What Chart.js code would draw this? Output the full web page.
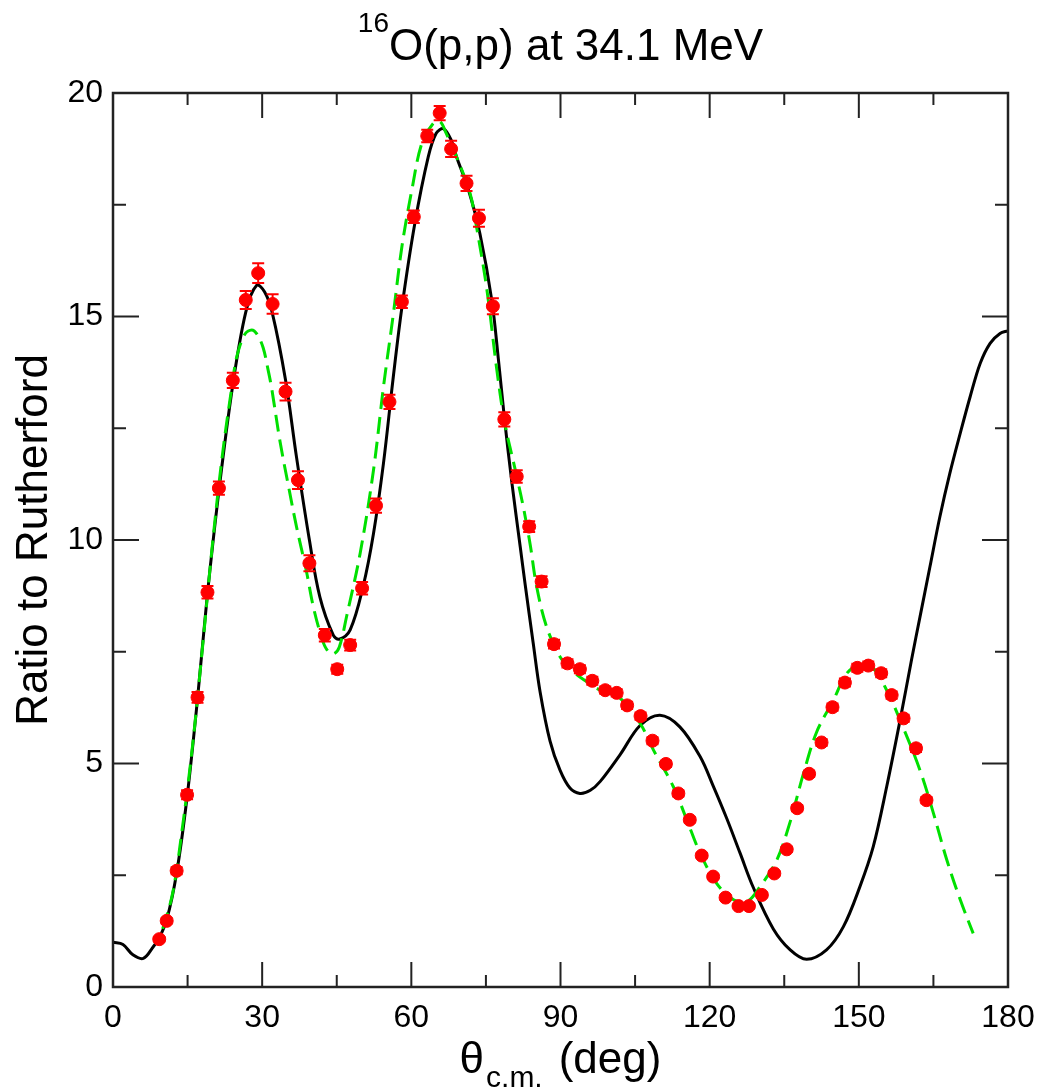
<!DOCTYPE html>
<html>
<head>
<meta charset="utf-8">
<title>16O(p,p) at 34.1 MeV</title>
<script src="https://cdn.jsdelivr.net/npm/chart.js@4/dist/chart.umd.min.js"></script>
<style>
    html, body { margin: 0; padding: 0; background: #fff; }
    #chart { display: block; }
</style>
</head>
<body>
<canvas id="chart" width="1041" height="1092"></canvas>
<script>
// Measured cross sections (ratio to Rutherford)
const expTheta = [9.3, 10.8, 12.8, 14.9, 17.0, 19.0, 21.3, 24.1, 26.7, 29.2,
    32.1, 34.7, 37.2, 39.5, 42.6, 45.1, 47.7, 50.1, 52.9, 55.6,
    58.1, 60.5, 63.2, 65.7, 68.0, 71.1, 73.6, 76.4, 78.7, 81.2,
    83.7, 86.2, 88.7, 91.4, 93.9, 96.4, 99.0, 101.3, 103.4, 106.1,
    108.5, 111.2, 113.7, 116.0, 118.4, 120.7, 123.2, 125.8, 127.9, 130.5,
    133.0, 135.5, 137.6, 140.0, 142.5, 144.7, 147.2, 149.7, 151.9, 154.5,
    156.6, 159.0, 161.5, 163.6];
const expRatio = [1.07, 1.48, 2.60, 4.30, 6.48, 8.83, 11.16, 13.57, 15.37, 15.97,
    15.28, 13.32, 11.34, 9.48, 7.87, 7.11, 7.65, 8.92, 10.77, 13.09,
    15.33, 17.23, 19.04, 19.55, 18.75, 17.98, 17.20, 15.23, 12.70, 11.42,
    10.30, 9.07, 7.67, 7.24, 7.11, 6.85, 6.64, 6.58, 6.30, 6.06,
    5.51, 4.99, 4.33, 3.74, 2.94, 2.47, 2.00, 1.81, 1.81, 2.06,
    2.54, 3.08, 4.00, 4.77, 5.47, 6.26, 6.81, 7.14, 7.19, 7.02,
    6.53, 6.01, 5.34, 4.18];
const expError = [0.05, 0.06, 0.08, 0.10, 0.12, 0.14, 0.15, 0.17, 0.20, 0.22,
    0.22, 0.20, 0.20, 0.18, 0.14, 0.10, 0.12, 0.14, 0.16, 0.16,
    0.14, 0.14, 0.14, 0.16, 0.18, 0.17, 0.19, 0.18, 0.16, 0.14,
    0.12, 0.12, 0.10, 0.09, 0.09, 0.09, 0.08, 0.08, 0.08, 0.08,
    0.08, 0.07, 0.07, 0.06, 0.05, 0.05, 0.05, 0.05, 0.05, 0.05,
    0.05, 0.06, 0.07, 0.07, 0.08, 0.08, 0.09, 0.09, 0.09, 0.09,
    0.08, 0.08, 0.08, 0.07];

// Calculation 1 (black solid)
const calcATheta = [0, 2, 4, 6.1, 8.1, 9.3, 10.8, 12.8, 14.9, 17, 19, 21.3, 24, 26.7, 28.9,
    30.5, 32, 34.7, 36.9, 39.5, 41.6, 44.3, 45.5, 47.7, 50.3, 52.4, 54.4, 56.3,
    58.1, 60.7, 63.4, 65, 66.5, 68, 69.1, 71.5, 73.8, 76.2, 77.5, 78.7, 80.2,
    81.9, 82.9, 84.5, 85.9, 87.9, 89.9, 91.9, 93.9, 96, 98, 102, 106, 110, 114,
    118.1, 120.7, 123.4, 126.1, 128.8, 132.8, 136.2, 139.5, 143.5, 146.9, 150.2,
    152.9, 155.6, 158.3, 160.6, 162.3, 164.3, 166.3, 168.3, 170.4, 172.4, 174.4,
    176.4, 178.4, 180];
const calcARatio = [1.0, 0.95, 0.72, 0.64, 0.9, 1.1, 1.5, 2.55, 4.25, 6.45, 8.8, 11.1, 13.4, 15.1, 15.7,
    15.55, 15.1, 13.58, 11.86, 10.0, 8.73, 7.87, 7.78, 7.99, 8.96, 10.15, 11.72, 13.58,
    15.2, 17.08, 18.57, 19.1, 19.2, 18.95, 18.57, 17.83, 16.85, 15.35, 14.05, 12.75, 11.3,
    9.85, 9.0, 7.7, 6.6, 5.5, 4.85, 4.45, 4.33, 4.4, 4.6, 5.2, 5.85, 6.08, 5.82,
    5.15, 4.5, 3.78, 3.0, 2.22, 1.3, 0.83, 0.62, 0.83, 1.35, 2.24,
    3.14, 4.48, 5.97, 7.32, 8.28, 9.4, 10.52, 11.49, 12.39, 13.21, 13.95,
    14.4, 14.62, 14.68];

// Calculation 2 (green dashed)
const calcBTheta = [10, 12, 14, 16, 18, 20, 22, 24, 24.9, 26.5, 27.9, 29, 30.2, 31.2, 31.9,
    33.6, 35.3, 36.9, 38.9, 40.3, 42, 43, 44.3, 45.5, 47, 49.7, 52.4, 54.4, 56.4,
    58.1, 60.1, 62.1, 64.4, 65.8, 67, 69.1, 71.8, 73.2, 75.2, 77.2, 78.8, 80.9,
    82.5, 83.9, 85.2, 87.2, 89.9, 92.6, 95, 98, 102, 106, 108.7, 112.7, 115.4,
    118.1, 121.4, 124.8, 127.5, 130.1, 133.5, 136.2, 138.8, 141.5, 144.9, 147.6,
    150.2, 152.9, 155.6, 158.3, 162.3, 165, 167.7, 170.4, 173];
const calcBRatio = [1.3, 2.1, 3.6, 5.4, 7.6, 9.9, 11.9, 13.5, 14.1, 14.6, 14.7, 14.6, 14.3, 13.8, 13.4,
    12.2, 11.2, 10.3, 9.3, 8.5, 7.8, 7.55, 7.45, 7.6, 8.3, 9.7, 11.57, 13.43, 15.07,
    16.56, 17.83, 18.87, 19.32, 19.36, 19.1, 18.57, 17.76, 16.95, 15.6, 13.8, 12.61, 11.57,
    10.75, 9.9, 8.96, 8.06, 7.39, 7.05, 6.85, 6.64, 6.46, 5.9, 5.3, 4.48, 3.74,
    2.99, 2.32, 1.95, 1.91, 2.24, 2.84, 3.7, 4.75, 5.7, 6.42, 7.02,
    7.2, 7.13, 6.64, 5.97, 4.85, 3.89, 2.84, 1.95, 1.2];

const xMajor = [0, 30, 60, 90, 120, 150, 180];
const xMinor = [15, 45, 75, 105, 135, 165];
const yMajor = [0, 5, 10, 15, 20];
const yMinor = [2.5, 7.5, 12.5, 17.5];

const FONT = "'Liberation Sans', Arial, Helvetica, sans-serif";

function toPoints(xs, ys) {
    return xs.map((x, i) => ({ x: x, y: ys[i] }));
}

// error bars for the measured points
const errorBarPlugin = {
    id: 'errorBars',
    afterDatasetsDraw(chart) {
        const ctx = chart.ctx;
        const xs = chart.scales.x;
        const ys = chart.scales.y;
        ctx.save();
        ctx.strokeStyle = '#ff0000';
        ctx.lineWidth = 2;
        expTheta.forEach((t, i) => {
            const px = xs.getPixelForValue(t);
            const top = ys.getPixelForValue(expRatio[i] + expError[i]);
            const bot = ys.getPixelForValue(expRatio[i] - expError[i]);
            ctx.beginPath();
            ctx.moveTo(px, top); ctx.lineTo(px, bot);
            ctx.moveTo(px - 6, top); ctx.lineTo(px + 6, top);
            ctx.moveTo(px - 6, bot); ctx.lineTo(px + 6, bot);
            ctx.stroke();
        });
        ctx.restore();
    }
};

// frame, inward ticks on all sides, titles with super/subscripts
const framePlugin = {
    id: 'frame',
    afterDraw(chart) {
        const ctx = chart.ctx;
        const a = chart.chartArea;
        const xs = chart.scales.x;
        const ys = chart.scales.y;
        ctx.save();
        ctx.strokeStyle = '#222';
        ctx.lineWidth = 2.5;
        ctx.strokeRect(a.left, a.top, a.right - a.left, a.bottom - a.top);

        ctx.lineWidth = 2;
        ctx.beginPath();
        const xTick = (v, len) => {
            const p = xs.getPixelForValue(v);
            ctx.moveTo(p, a.bottom); ctx.lineTo(p, a.bottom - len);
            ctx.moveTo(p, a.top); ctx.lineTo(p, a.top + len);
        };
        const yTick = (v, len) => {
            const p = ys.getPixelForValue(v);
            ctx.moveTo(a.left, p); ctx.lineTo(a.left + len, p);
            ctx.moveTo(a.right, p); ctx.lineTo(a.right - len, p);
        };
        xMajor.forEach(v => xTick(v, 25));
        xMinor.forEach(v => xTick(v, 12));
        yMajor.forEach(v => yTick(v, 26));
        yMinor.forEach(v => yTick(v, 13));
        ctx.stroke();

        ctx.fillStyle = '#000';
        ctx.textBaseline = 'alphabetic';
        ctx.textAlign = 'left';

        // main title
        const cx = (a.left + a.right) / 2;
        ctx.font = '28px ' + FONT;
        const supW = ctx.measureText('16').width;
        ctx.font = '44px ' + FONT;
        const mainW = ctx.measureText('O(p,p) at 34.1 MeV').width;
        let x0 = cx - (supW + mainW) / 2;
        ctx.font = '28px ' + FONT;
        ctx.fillText('16', x0, 32);
        ctx.font = '44px ' + FONT;
        ctx.fillText('O(p,p) at 34.1 MeV', x0 + supW, 60);

        // x axis title
        ctx.font = '44px ' + FONT;
        const thW = ctx.measureText('\u03b8').width;
        const degW = ctx.measureText('(deg)').width;
        ctx.font = '30px ' + FONT;
        const cmW = ctx.measureText('c.m.').width;
        const gap = 18;
        x0 = cx - (thW + cmW + gap + degW) / 2;
        ctx.font = '44px ' + FONT;
        ctx.fillText('\u03b8', x0, 1073);
        ctx.font = '30px ' + FONT;
        ctx.fillText('c.m.', x0 + thW + 2, 1087);
        ctx.font = '44px ' + FONT;
        ctx.fillText('(deg)', x0 + thW + cmW + gap, 1073);
        ctx.restore();
    }
};

const ctx = document.getElementById('chart').getContext('2d');
new Chart(ctx, {
    type: 'scatter',
    data: {
        datasets: [
            {
                label: 'data',
                data: toPoints(expTheta, expRatio),
                showLine: false,
                pointStyle: 'circle',
                pointRadius: 6.5,
                backgroundColor: '#ff0000',
                borderColor: '#ff0000',
                borderWidth: 1,
                order: 1
            },
            {
                label: 'calc 2',
                data: toPoints(calcBTheta, calcBRatio),
                showLine: true,
                pointRadius: 0,
                borderColor: '#00e000',
                borderWidth: 3,
                borderDash: [17, 8],
                tension: 0.35,
                fill: false,
                order: 2
            },
            {
                label: 'calc 1',
                data: toPoints(calcATheta, calcARatio),
                showLine: true,
                pointRadius: 0,
                borderColor: '#000000',
                borderWidth: 3,
                tension: 0.35,
                fill: false,
                order: 3
            }
        ]
    },
    options: {
        responsive: false,
        animation: false,
        layout: { padding: { top: 93, right: 33, left: 0, bottom: 0 } },
        plugins: {
            legend: { display: false },
            tooltip: { enabled: false },
            title: { display: false }
        },
        scales: {
            x: {
                type: 'linear',
                min: 0,
                max: 180,
                grid: { display: false, drawTicks: false },
                border: { display: false },
                ticks: {
                    stepSize: 30,
                    padding: 12,
                    color: '#000',
                    maxRotation: 0,
                    font: { family: FONT, size: 32 }
                },
                afterFit(scale) {
                    scale.height = 105;
                    scale.paddingLeft = 0;
                    scale.paddingRight = 0;
                }
            },
            y: {
                type: 'linear',
                min: 0,
                max: 20,
                grid: { display: false, drawTicks: false },
                border: { display: false },
                ticks: {
                    stepSize: 5,
                    padding: 10,
                    color: '#000',
                    font: { family: FONT, size: 32 }
                },
                title: {
                    display: true,
                    text: 'Ratio to Rutherford',
                    color: '#000',
                    font: { family: FONT, size: 44 },
                    padding: { top: 8, bottom: 0 }
                },
                afterFit(scale) {
                    scale.width = 113;
                    scale.paddingTop = 0;
                    scale.paddingBottom = 0;
                }
            }
        }
    },
    plugins: [errorBarPlugin, framePlugin]
});
</script>
</body>
</html>
